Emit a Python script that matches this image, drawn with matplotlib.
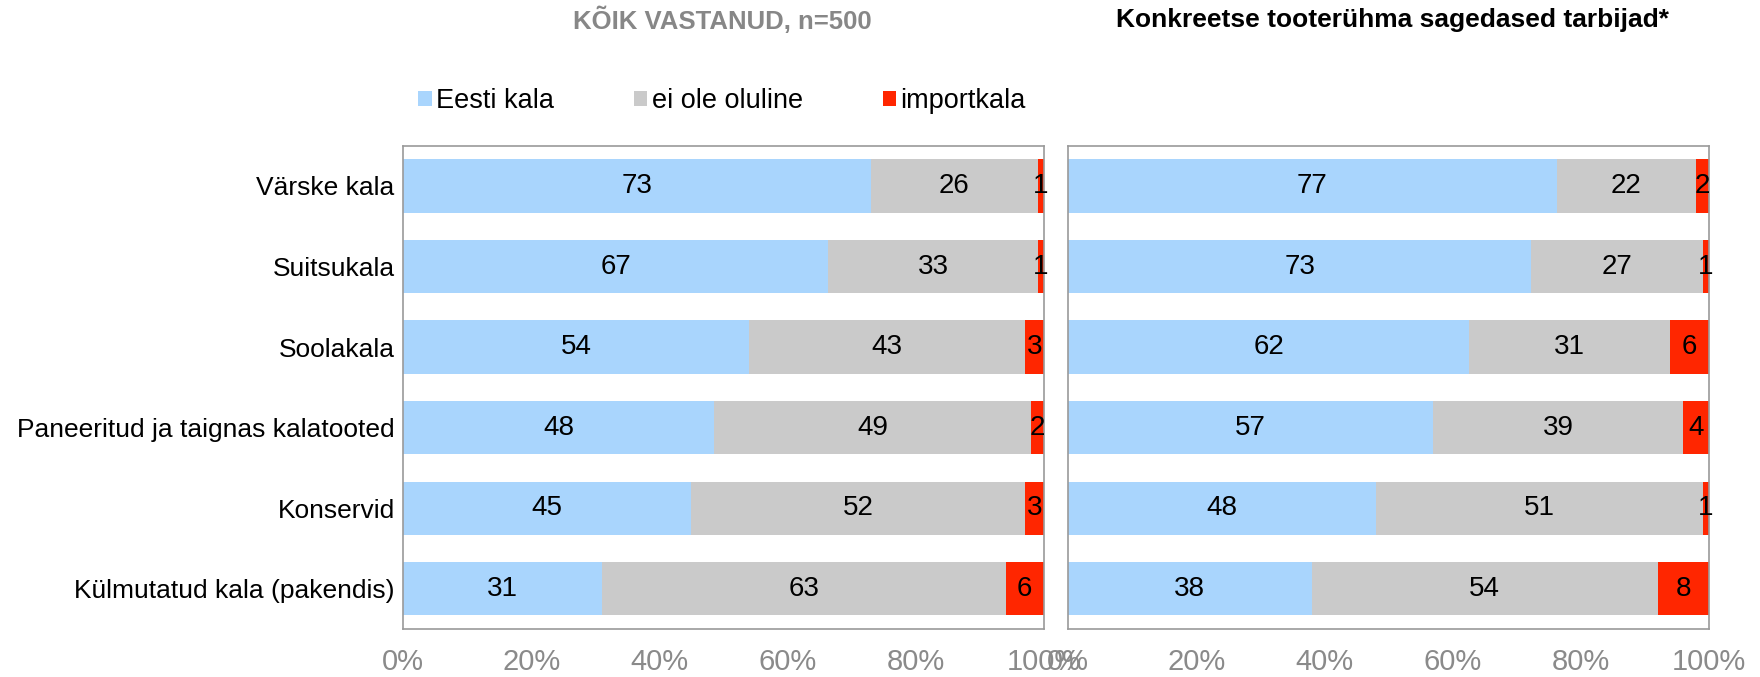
import numpy as np
import matplotlib.pyplot as plt
from matplotlib.patches import Patch

plt.rcParams['font.family'] = ['Liberation Sans', 'DejaVu Sans']

categories = ['Värske kala', 'Suitsukala', 'Soolakala',
              'Paneeritud ja taignas kalatooted', 'Konservid',
              'Külmutatud kala (pakendis)']
series_names = ['Eesti kala', 'ei ole oluline', 'importkala']
colors = ['#a9d5fd', '#cacaca', '#ff2600']

# left panel: all respondents
all_eesti = [73, 67, 54, 48, 45, 31]
all_neutral = [26, 33, 43, 49, 52, 63]
all_import = [1, 1, 3, 2, 3, 6]

# right panel: frequent consumers of the product group
freq_eesti = [77, 73, 62, 57, 48, 38]
freq_neutral = [22, 27, 31, 39, 51, 54]
freq_import = [2, 1, 6, 4, 1, 8]

titles = ['KÕIK VASTANUD, n=500', 'Konkreetse tooterühma sagedased tarbijad*']
title_colors = ['#878787', 'black']
ticks = [0, 20, 40, 60, 80, 100]

fig = plt.figure(figsize=(17.6, 6.77), dpi=100)
ax1 = fig.add_axes([0.2290, 0.0709, 0.3642, 0.7139])
ax2 = fig.add_axes([0.6068, 0.0709, 0.3642, 0.7139])


def draw_panel(ax, series, show_labels):
    data = np.array(series, dtype=float)
    # Excel style 100% stacked: normalise each row
    shares = data / data.sum(axis=0) * 100
    y = np.arange(len(categories))
    left = np.zeros(len(categories))
    for k in range(len(series)):
        ax.barh(y, shares[k], left=left, height=0.66, color=colors[k],
                edgecolor='none')
        for i in range(len(categories)):
            ax.text(left[i] + shares[k][i] / 2, y[i], str(series[k][i]),
                    ha='center', va='center', fontsize=20, color='black')
        left += shares[k]
    ax.set_xlim(0, 100)
    ax.set_ylim(len(categories) - 0.5, -0.5)
    ax.set_xticks(ticks)
    ax.set_xticklabels([f'{t}%' for t in ticks])
    ax.set_yticks(y)
    if show_labels:
        ax.set_yticklabels(categories, fontsize=19)
    else:
        ax.set_yticklabels([])
    ax.tick_params(axis='y', length=0, pad=6)
    ax.tick_params(axis='x', length=0, pad=14, labelsize=21, labelcolor='#8a8a8a')
    for s in ax.spines.values():
        s.set_color('#9a9a9a')
        s.set_linewidth(1.2)


draw_panel(ax1, [all_eesti, all_neutral, all_import], True)
draw_panel(ax2, [freq_eesti, freq_neutral, freq_import], False)

fig.text(722 / 1760, 1 - 20 / 677, titles[0], ha='center', va='center',
         fontsize=18.5, fontweight='bold', color=title_colors[0])
fig.text(1392 / 1760, 1 - 20 / 677, titles[1], ha='center', va='center',
         fontsize=19, fontweight='bold', color=title_colors[1])

handles = [Patch(facecolor=c, edgecolor='none') for c in colors]
fig.legend(handles, series_names, loc='center', ncol=3, frameon=False,
           bbox_to_anchor=(722 / 1760, 1 - 101 / 677), fontsize=19.5,
           handlelength=0.5, handleheight=0.5, handletextpad=0.15,
           columnspacing=2.95)

fig.savefig('out.png', dpi=100)
